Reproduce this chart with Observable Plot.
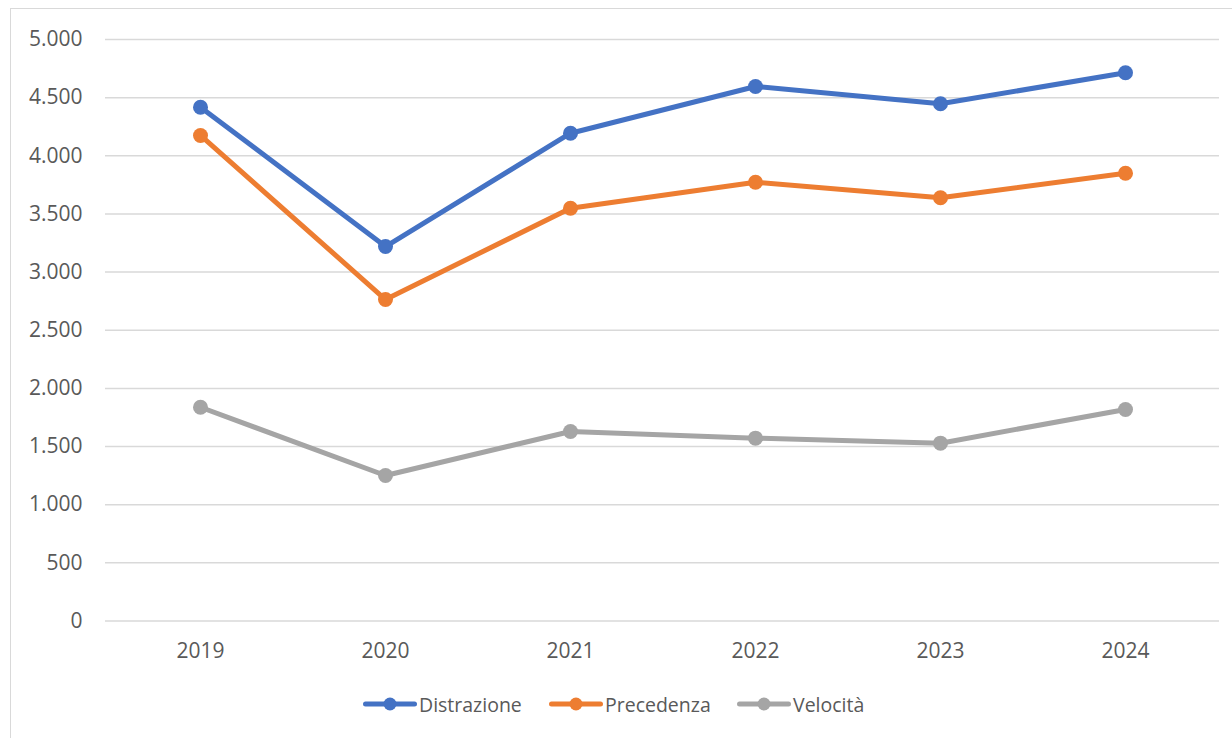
<!DOCTYPE html>
<html>
<head>
<meta charset="utf-8">
<script src="https://cdn.jsdelivr.net/npm/d3@7"></script>
<script src="https://cdn.jsdelivr.net/npm/@observablehq/plot@0.6"></script>
<style>
  html, body { margin: 0; padding: 0; background: #fff; overflow: hidden; }
  #wrap { position: relative; width: 1232px; height: 738px; font-family: "Open Sans", sans-serif; }
  #frame { position: absolute; left: 10px; top: 8px; width: 1400px; height: 900px; border: 1.5px solid #d9d9d9; box-sizing: border-box; }
  #chart { position: absolute; left: 0; top: 0; }
  #legend { position: absolute; top: 690px; left: 0; width: 1232px; height: 28px; }
  .item { position: absolute; top: 0; display: flex; align-items: center; height: 28px; font-size: 19.5px; color: #595959; }
  .item svg { margin-right: 2px; }
</style>
</head>
<body>
<div id="wrap">
  <div id="frame"></div>
  <div id="chart"></div>
  <div id="legend"></div>
</div>
<script>
const years = ["2019", "2020", "2021", "2022", "2023", "2024"];
const seriesNames = ["Distrazione", "Precedenza", "Velocità"];
const distrazione = [4418, 3220, 4194, 4596, 4447, 4714];
const precedenza = [4175, 2764, 3549, 3773, 3639, 3850];
const velocita = [1838, 1251, 1629, 1572, 1529, 1819];
const colors = ["#4472C4", "#ED7D31", "#A5A5A5"];
const yTicks = [0, 500, 1000, 1500, 2000, 2500, 3000, 3500, 4000, 4500, 5000];

const seriesValues = [distrazione, precedenza, velocita];
const data = [];
seriesNames.forEach((s, i) => years.forEach((y, j) => data.push({serie: s, year: y, value: seriesValues[i][j]})));

const it = d3.formatLocale({decimal: ",", thousands: ".", grouping: [3], currency: ["€", ""]});
const fmt = it.format(",d");

const chart = Plot.plot({
  width: 1232,
  height: 680,
  marginTop: 39,
  marginBottom: 59.5,
  marginLeft: 105,
  marginRight: 13,
  style: {fontFamily: "Open Sans, sans-serif", fontSize: "21px", color: "#595959", background: "transparent"},
  x: {type: "point", domain: years, padding: 0.5, label: null},
  y: {domain: [0, 5000], label: null},
  color: {domain: seriesNames, range: colors},
  marks: [
    Plot.gridY(yTicks, {stroke: "#d9d9d9", strokeOpacity: 1, strokeWidth: 1.5}),
    Plot.axisY(yTicks, {tickSize: 0, tickPadding: 23, tickFormat: fmt, fill: "#595959", label: null}),
    Plot.axisX({tickSize: 0, tickPadding: 22, fill: "#595959", label: null}),
    Plot.line(data, {x: "year", y: "value", z: "serie", stroke: "serie", strokeWidth: 5, strokeLinejoin: "round", strokeLinecap: "round"}),
    Plot.dot(data, {x: "year", y: "value", fill: "serie", r: 7.5, stroke: "none"})
  ]
});
document.getElementById("chart").appendChild(chart);

const legend = document.getElementById("legend");
const lefts = [363, 549, 737];
seriesNames.forEach((s, i) => {
  const d = document.createElement("div");
  d.className = "item";
  d.style.left = lefts[i] + "px";
  d.innerHTML = `<svg width="54" height="16"><line x1="2.5" y1="8" x2="51.5" y2="8" stroke="${colors[i]}" stroke-width="5" stroke-linecap="round"/><circle cx="27" cy="8" r="6.5" fill="${colors[i]}"/></svg><span>${s}</span>`;
  legend.appendChild(d);
});
</script>
</body>
</html>
